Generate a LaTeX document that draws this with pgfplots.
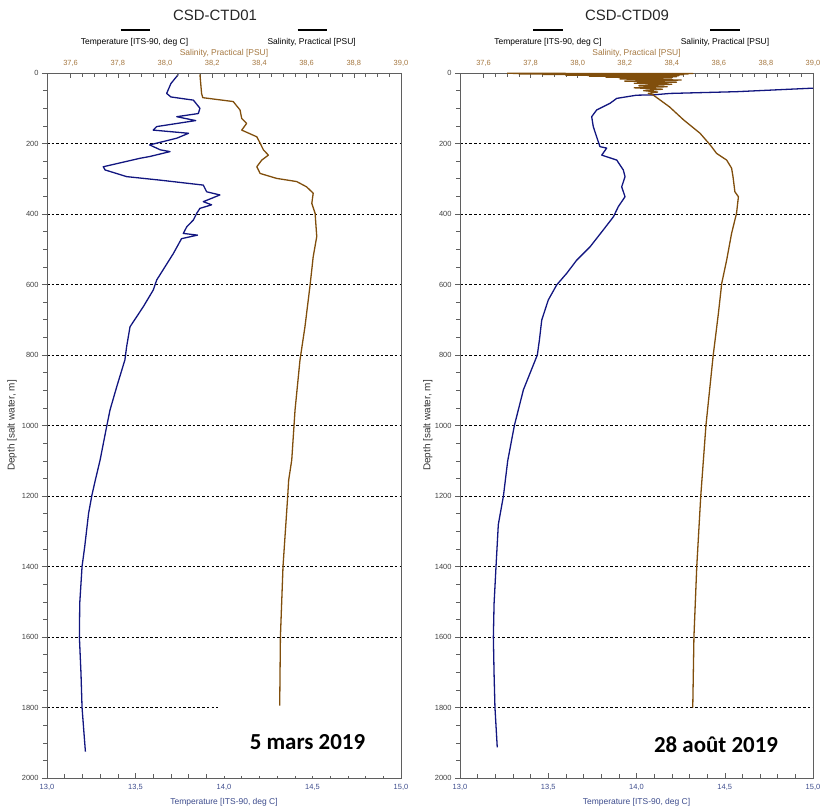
\documentclass[border=0pt]{standalone}
\usepackage{pgfplots}
\pgfplotsset{compat=1.18}
\usepackage{fontspec}
\setmainfont{Liberation Sans}
\newfontfamily\datefont{Carlito}
\definecolor{tcol}{RGB}{18,22,128}
\definecolor{scol}{RGB}{128,78,12}
\definecolor{slab}{RGB}{165,120,65}
\definecolor{tlab}{RGB}{60,75,140}
\definecolor{axcol}{RGB}{95,95,95}

\pgfplotstableread{
T d
13.742 4
13.700 30
13.676 58
13.700 68
13.827 77
13.864 100
13.855 115
13.733 124
13.840 135
13.620 152
13.600 162
13.800 171
13.733 185
13.580 204
13.640 218
13.695 223
13.580 237
13.525 242
13.318 266
13.328 275
13.450 294
13.640 304
13.883 318
13.902 337
13.977 346
13.883 365
13.930 374
13.864 384
13.846 398
13.827 417
13.790 436
13.770 455
13.850 460
13.760 470
13.714 512
13.620 587
13.600 616
13.544 663
13.469 720
13.450 776
13.440 814
13.394 890
13.356 956
13.337 1003
13.300 1098
13.273 1155
13.254 1197
13.235 1249
13.213 1344
13.198 1400
13.185 1504
13.183 1600
13.192 1703
13.198 1800
13.207 1860
13.217 1925
}\tempA

\pgfplotstableread{
S d
38.148 4
38.155 58
38.160 70
38.289 81
38.318 105
38.325 129
38.346 143
38.325 162
38.389 181
38.403 199
38.417 218
38.438 233
38.410 247
38.389 266
38.403 285
38.473 299
38.558 308
38.600 323
38.628 341
38.622 370
38.636 398
38.643 464
38.628 521
38.614 606
38.593 720
38.572 814
38.551 956
38.537 1098
38.524 1155
38.520 1200
38.500 1400
38.489 1600
38.486 1795
}\salA

\pgfplotstableread{
T d
15.000 43
14.568 53
14.190 58
14.095 62
14.000 63
13.888 72
13.850 86
13.774 105
13.746 124
13.755 152
13.774 181
13.793 209
13.831 213
13.803 233
13.888 247
13.925 275
13.935 294
13.916 323
13.935 351
13.897 379
13.869 408
13.812 445
13.737 493
13.661 531
13.605 568
13.548 601
13.500 644
13.463 701
13.450 757
13.438 800
13.359 899
13.308 1000
13.270 1101
13.246 1200
13.217 1281
13.204 1400
13.193 1505
13.189 1600
13.193 1705
13.198 1800
13.211 1913
}\tempB

\pgfplotstableread{
S d
37.70 1
38.49 1.5
37.75 2.5
38.47 3
37.85 4
38.45 5
37.95 6.5
38.43 7.5
38.05 9
38.42 10.5
38.12 12
38.40 14
38.18 17
38.44 20
38.20 23
38.42 26
38.24 29
38.40 32
38.26 36
38.38 39
38.24 42
38.36 46
38.28 50
38.34 54
38.30 58
38.32 62
38.39 96
38.45 133
38.52 171
38.563 204
38.59 228
38.633 247
38.654 270
38.66 294
38.668 337
38.683 351
38.675 398
38.654 455
38.633 531
38.612 597
38.598 682
38.584 757
38.576 800
38.545 1000
38.523 1200
38.506 1400
38.494 1600
38.489 1800
}\salB

\pgfplotsset{
  /pgf/number format/assume math mode=true,
  base/.style={
    scale only axis, width=354bp, height=705bp,
    ymin=0, ymax=2000, y dir=reverse,
    axis line style={axcol, line width=0.6bp},
    tick style={axcol, line width=0.5bp},
    major tick length=5bp, minor tick length=4bp,
    xtick align=inside, ytick align=outside,
  },
  tempax/.style={
    base,
    xmin=13, xmax=15,
    tick pos=left,
    xtick={13,13.5,14,14.5,15}, minor x tick num=4,
    ytick={0,200,...,2000}, minor y tick num=3,
    ymajorgrids,
    major grid style={black, dash pattern=on 2.5bp off 2.2bp, line width=0.6bp},
    xticklabel style={font=\fontsize{7.5}{8}\selectfont, text=tlab,
      /pgf/number format/.cd, fixed, fixed zerofill, precision=1, use comma},
    yticklabel style={font=\fontsize{7.5}{8}\selectfont, text=black!75,
      /pgf/number format/.cd, fixed, precision=0, 1000 sep={}},
    xticklabel shift=3bp, yticklabel shift=0bp,
    xlabel={Temperature [ITS-90, deg C]},
    xlabel style={font=\fontsize{8.5}{9}\selectfont, text=tlab,
      at={(axis description cs:0.5,0)}, anchor=center, yshift=-24bp},
    ylabel={Depth [salt water, m]},
    ylabel style={font=\fontsize{10}{11}\selectfont, text=black!80, anchor=center},
  },
  salax/.style={
    base,
    xmin=37.5, xmax=39.0,
    axis x line*=top, axis y line=none,
    xtick={37.6,37.8,38.0,38.2,38.4,38.6,38.8,39.0}, minor x tick num=3,
    xticklabel style={font=\fontsize{7.5}{8}\selectfont, text=slab,
      /pgf/number format/.cd, fixed, fixed zerofill, precision=1, use comma},
    xticklabel shift=3bp,
    xlabel={Salinity, Practical [PSU]},
    xlabel style={font=\fontsize{8.5}{9}\selectfont, text=slab,
      at={(axis description cs:0.5,1)}, anchor=center, yshift=20bp},
  },
}

\begin{document}
\begin{tikzpicture}[x=1bp,y=1bp]
\path[use as bounding box] (0,0) rectangle (823,809);

% ---------- left panel ----------
\begin{axis}[tempax, at={(47bp,31bp)}, anchor=south west,
  ylabel style={at={(axis description cs:-0.099,0.5)}}]
  \addplot[tcol, line width=1.3bp, no markers, line join=round] table[x=T, y=d] {\tempA};
  \fill[white] (axis cs:13.965,1797) rectangle (axis cs:15.0,1994);
\end{axis}
\begin{axis}[salax, at={(47bp,31bp)}, anchor=south west]
  \addplot[scol, line width=1.3bp, no markers, line join=round] table[x=S, y=d] {\salA};
\end{axis}
\draw[axcol, line width=0.6bp] (401,31) -- (401,736);

% ---------- right panel ----------
\begin{axis}[tempax, at={(460bp,31bp)}, anchor=south west, width=353bp,
  ylabel style={at={(axis description cs:-0.091,0.5)}}]
  \addplot[tcol, line width=1.3bp, no markers, line join=round] table[x=T, y=d] {\tempB};
\end{axis}
\begin{axis}[salax, at={(460bp,31bp)}, anchor=south west, width=353bp]
  \addplot[scol, line width=1.3bp, no markers, line join=round] table[x=S, y=d] {\salB};
\end{axis}

% ---------- headers ----------
\node[font=\fontsize{15}{17}\selectfont, text=black!85] at (215,794) {CSD-CTD01};
\node[font=\fontsize{15}{17}\selectfont, text=black!85] at (627,794) {CSD-CTD09};
\draw[black, line width=1.6bp] (120.7,779) -- (150,779);
\draw[black, line width=1.6bp] (297.7,779) -- (326.7,779);
\draw[black, line width=1.6bp] (533,779) -- (563,779);
\draw[black, line width=1.6bp] (710,779) -- (740,779);
\node[font=\fontsize{8.5}{9}\selectfont] at (134.5,767) {Temperature [ITS-90, deg C]};
\node[font=\fontsize{8.5}{9}\selectfont] at (311.7,767) {Salinity, Practical [PSU]};
\node[font=\fontsize{8.5}{9}\selectfont] at (548,767) {Temperature [ITS-90, deg C]};
\node[font=\fontsize{8.5}{9}\selectfont] at (725,767) {Salinity, Practical [PSU]};

% ---------- dates ----------
\node[font=\datefont\bfseries\fontsize{23}{26}\selectfont] at (307.5,67.3) {5 mars 2019};
\node[font=\datefont\bfseries\fontsize{23}{26}\selectfont] at (716,64) {28 août 2019};
\end{tikzpicture}
\end{document}
